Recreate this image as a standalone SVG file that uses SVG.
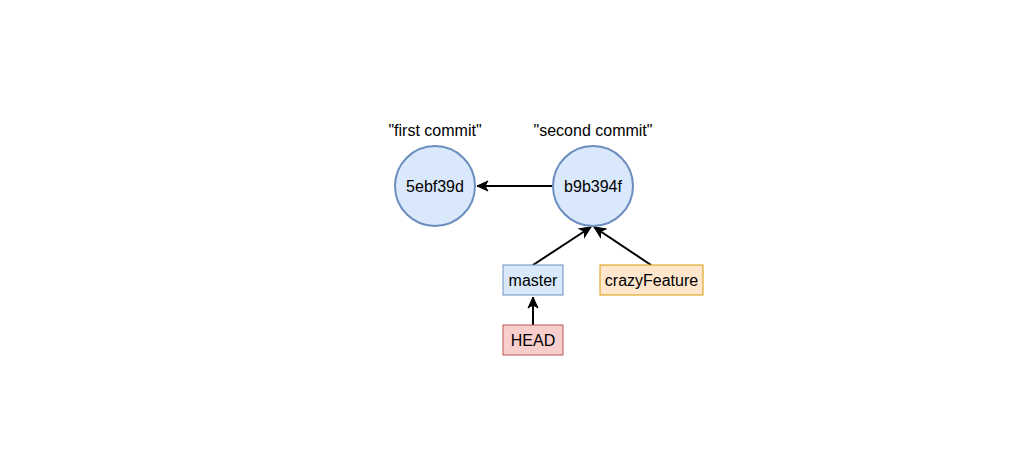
<svg xmlns="http://www.w3.org/2000/svg" width="1010" height="470" viewBox="0 0 1010 470">
<style>
text{font-family:"Liberation Sans",Arial,sans-serif;font-size:16px;fill:#000;text-anchor:middle}
.blue{fill:#dae8fc;stroke:#6c8ebf;stroke-width:2}
.box{stroke-width:1}
.orange{fill:#ffe6cc;stroke:#d79b00}
.red{fill:#f8cecc;stroke:#b85450}
.edge{stroke:#000;stroke-width:2;fill:none;marker-end:url(#arr)}
</style>
<defs>
<marker id="arr" markerUnits="userSpaceOnUse" markerWidth="14" markerHeight="14" viewBox="0 0 14 14" refX="12" refY="7" orient="auto">
<path d="M1,2 L12,7 L1,12 L4,7 Z" fill="#000" stroke="#000" stroke-width="1"/>
</marker>
</defs>
<rect width="1010" height="470" fill="#fff"/>
<g id="connectors">
<line class="edge" x1="553" y1="186" x2="477" y2="186"/>
<line class="edge" x1="533" y1="265" x2="591" y2="227"/>
<line class="edge" x1="651" y1="265" x2="594" y2="227"/>
<line class="edge" x1="533" y1="325" x2="533" y2="297"/>
</g>
<g id="commit1">
<circle class="blue" cx="435" cy="186" r="40"/>
<text x="435" y="192">5ebf39d</text>
</g>
<g id="commit2">
<circle class="blue" cx="593" cy="186" r="40"/>
<text x="593" y="192">b9b394f</text>
</g>
<g id="label1"><text x="435" y="136">"first commit"</text></g>
<g id="label2"><text x="593" y="136">"second commit"</text></g>
<g id="master">
<rect class="blue box" x="503" y="265" width="60" height="30"/>
<text x="533" y="286">master</text>
</g>
<g id="crazyFeature">
<rect class="orange box" x="600" y="265" width="103" height="30"/>
<text x="651.5" y="286">crazyFeature</text>
</g>
<g id="head">
<rect class="red box" x="503" y="325" width="60" height="30"/>
<text x="533" y="346">HEAD</text>
</g>
</svg>
